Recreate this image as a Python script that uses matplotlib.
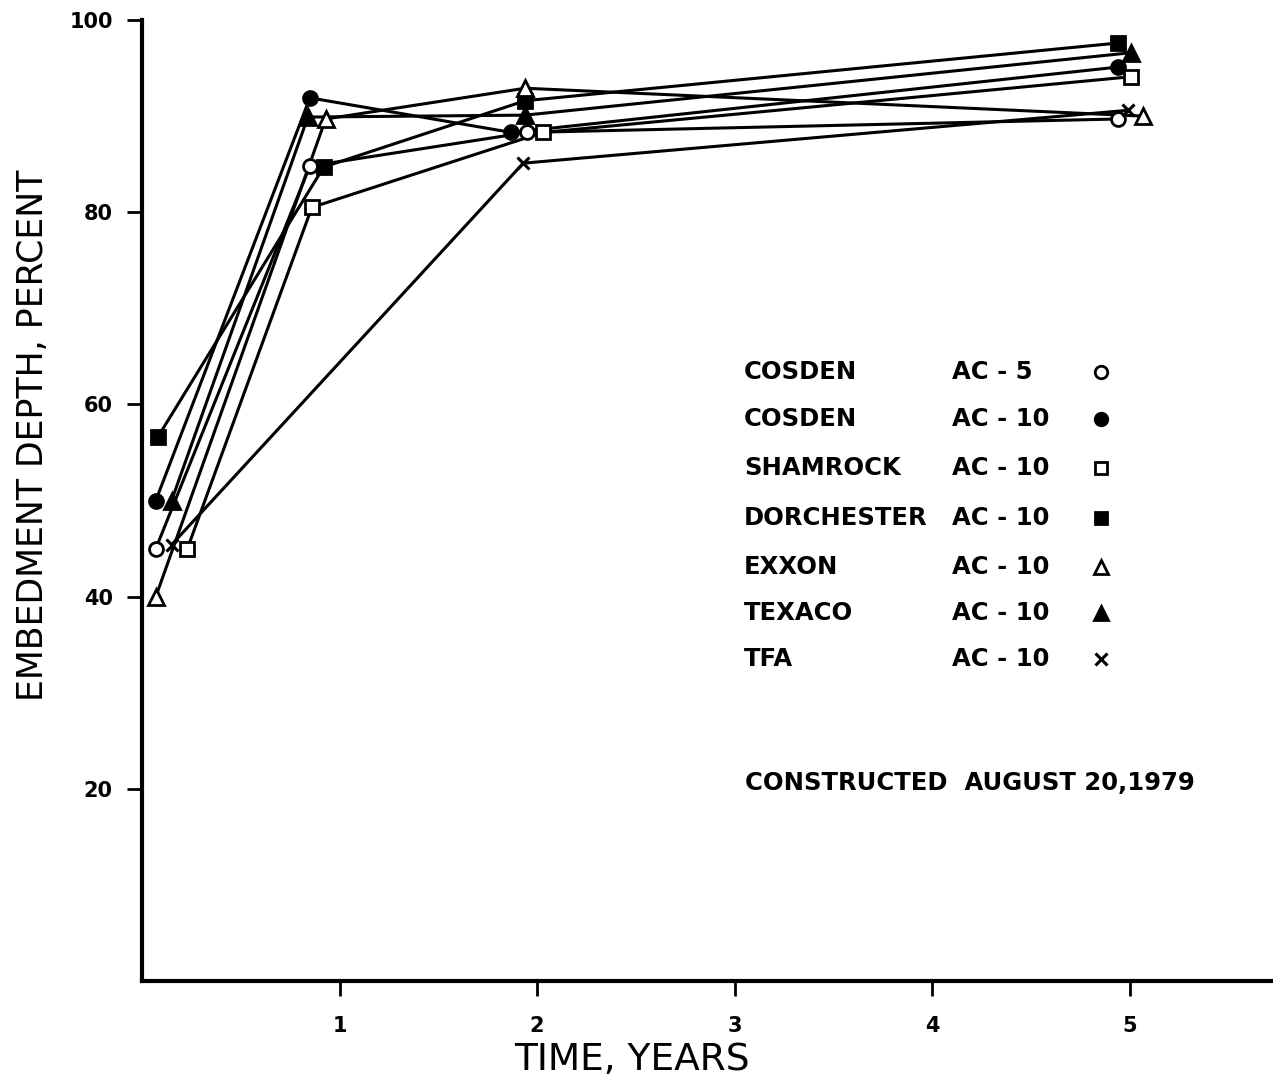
import matplotlib
matplotlib.use("Agg")
import matplotlib.pyplot as plt

# Series: time since construction (years) and embedment depth (percent)
names = ["COSDEN", "COSDEN", "SHAMROCK", "DORCHESTER", "EXXON", "TEXACO", "TFA"]
grades = ["AC - 5", "AC - 10", "AC - 10", "AC - 10", "AC - 10", "AC - 10", "AC - 10"]

cosden5_t = [0.07, 0.85, 1.95, 4.94]
cosden5_d = [45.0, 84.8, 88.3, 89.7]

cosden10_t = [0.07, 0.85, 1.87, 4.94]
cosden10_d = [50.0, 91.9, 88.3, 95.1]

shamrock_t = [0.23, 0.86, 2.03, 5.01]
shamrock_d = [45.0, 80.5, 88.3, 94.1]

dorchester_t = [0.08, 0.92, 1.94, 4.94]
dorchester_d = [56.6, 84.7, 91.6, 97.6]

exxon_t = [0.07, 0.93, 1.94, 5.07]
exxon_d = [40.0, 89.7, 92.9, 90.0]

texaco_t = [0.15, 0.84, 1.94, 5.01]
texaco_d = [50.0, 89.9, 90.1, 96.6]

tfa_t = [0.15, 1.93, 4.99]
tfa_d = [45.4, 85.1, 90.6]

y_ticks = [20, 40, 60, 80, 100]
x_ticks = [1, 2, 3, 4, 5]

series = [
    (cosden5_t, cosden5_d, "o", "white"),
    (cosden10_t, cosden10_d, "o", "black"),
    (shamrock_t, shamrock_d, "s", "white"),
    (dorchester_t, dorchester_d, "s", "black"),
    (exxon_t, exxon_d, "^", "white"),
    (texaco_t, texaco_d, "^", "black"),
    (tfa_t, tfa_d, "x", "black"),
]

W, H = 1273, 1088
fig = plt.figure(figsize=(W / 100, H / 100), dpi=100)
ax = fig.add_axes([142 / W, 1 - 981 / H, 1 - 142 / W, (981 - 20) / H])
ax.set_xlim(0, (W - 142) / 197.5)
ax.set_ylim(0, 100)

for t, d, m, fc in series:
    ax.plot(t, d, color="black", lw=2.2, zorder=2, solid_capstyle="round")
    if m == "x":
        ax.plot(t, d, ls="none", marker="x", ms=9, mew=2.2, color="black", zorder=3)
    else:
        ms = 11 if m == "^" else 10
        ax.plot(t, d, ls="none", marker=m, ms=ms, mfc=fc, mec="black",
                mew=2.0, zorder=3)

for side in ("top", "right"):
    ax.spines[side].set_visible(False)
for side in ("left", "bottom"):
    ax.spines[side].set_linewidth(3)

ax.set_yticks(y_ticks)
ax.set_yticklabels([str(v) for v in y_ticks], fontweight="bold")
ax.set_xticks(x_ticks)
ax.set_xticklabels([str(v) for v in x_ticks], fontweight="bold")
ax.tick_params(axis="both", direction="out", width=2, length=11, labelsize=15, pad=10)
ax.tick_params(axis="x", pad=14)

fig.text(33 / W, 1 - 435 / H, "EMBEDMENT DEPTH, PERCENT", rotation=90,
         ha="center", va="center", fontsize=25)
fig.text(632 / W, 1 - 1060 / H, "TIME, YEARS", ha="center", va="center",
         fontsize=27)

# Key
rows_y = [372, 419, 468, 518, 567, 613, 659]
markers = [(m, fc) for _, _, m, fc in series]
for name, grade, py, (m, fc) in zip(names, grades, rows_y, markers):
    fy = 1 - py / H
    fig.text(744 / W, fy, name, ha="left", va="center", fontsize=17.5,
             fontweight="bold")
    fig.text(952 / W, fy, grade, ha="left", va="center", fontsize=17.5,
             fontweight="bold")
    kx = (1101 - 142) / (W - 142)
    ky = (981 - py) / (981 - 20)
    if m == "x":
        ax.plot([kx], [ky], transform=ax.transAxes, ls="none", marker="x",
                ms=8, mew=2.2, color="black", clip_on=False)
    else:
        ax.plot([kx], [ky], transform=ax.transAxes, ls="none", marker=m,
                ms=10 if m == "^" else 9, mfc=fc, mec="black", mew=2.0,
                clip_on=False)

fig.text(970 / W, 1 - 783 / H, "CONSTRUCTED  AUGUST 20,1979", ha="center",
         va="center", fontsize=17.5, fontweight="bold")

fig.savefig("out.png", dpi=100, facecolor="white")
